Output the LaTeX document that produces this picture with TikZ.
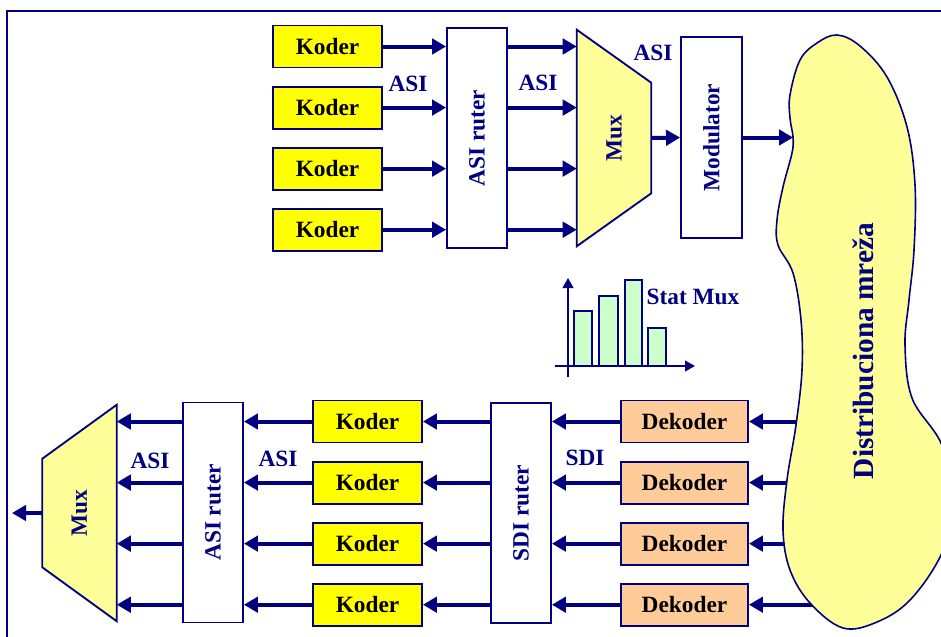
\documentclass[tikz,border=0pt]{standalone}
\usepackage{fontspec}
\setmainfont{Liberation Serif}
\usepackage{graphicx}
\usepackage{xcolor}
\usepackage{tikz}
\usetikzlibrary{positioning, arrows.meta, calc}

\definecolor{navy}{RGB}{0,0,128}
\definecolor{koderyellow}{RGB}{255,255,0}
\definecolor{dekoderpeach}{RGB}{255,204,153}
\definecolor{muxyellow}{RGB}{255,255,153}
\definecolor{barmint}{RGB}{204,255,204}

\begin{document}
\begin{tikzpicture}[x=0.75pt, y=-0.75pt, >={Triangle[length=10.5pt, width=11.5pt]}, node distance=12.9pt,
  every node/.style={font=\fontsize{17.5}{21}\selectfont\bfseries},
  flow/.style={->, draw=navy, line width=3pt},
  koder/.style={draw=navy, line width=1.4pt, fill=koderyellow, minimum width=81.75pt, minimum height=31.5pt, inner sep=0pt},
  dekoder/.style={koder, fill=dekoderpeach, minimum width=95.25pt},
  ruter/.style={draw=navy, line width=1.4pt, fill=white, text=navy, minimum width=45pt, minimum height=165pt, inner sep=0pt},
  modbox/.style={ruter, minimum width=45.75pt, minimum height=150.75pt},
  muxbox/.style={minimum width=55.5pt, minimum height=162pt, inner sep=0pt},
  muxshape/.style={draw=navy, line width=1.4pt, fill=muxyellow},
  lbl/.style={text=navy, inner sep=0pt},
  bar/.style={draw=navy, line width=1.2pt, fill=barmint},
  axis/.style={draw=navy, line width=1.5pt, -{Triangle[length=7.5pt, width=8pt]}}]
  \useasboundingbox (0,0) rectangle (941,636);
  \clip (0,0) rectangle (941,636);
  \draw[navy, line width=1.5pt] (7,11) rectangle (990,690);

  % sending side
  \node[koder] (k1) at (327.5,46.5) {Koder};
  \node[koder] (k2) [below=of k1] {Koder};
  \node[koder] (k3) [below=of k2] {Koder};
  \node[koder] (k4) [below=of k3] {Koder};
  \node[ruter] (rA) at (477,138) {\rotatebox{90}{ASI ruter}};
  \node[muxbox] (muxA) at (614,138) {};
  \filldraw[muxshape] (muxA.north west) -- ($(muxA.north east)+(0,53)$)
    -- ($(muxA.south east)+(0,-53)$) -- (muxA.south west) -- cycle;
  \node[lbl] (muxAlbl) at (muxA.center) {\rotatebox{90}{Mux}};
  \node[modbox] (mod) at (711.5,137.5) {\rotatebox{90}{Modulator}};

  \draw[flow] (k1) -- (k1 -| rA.west);
  \draw[flow] (k2) -- (k2 -| rA.west);
  \draw[flow] (k3) -- (k3 -| rA.west);
  \draw[flow] (k4) -- (k4 -| rA.west);
  \draw[flow] (rA.east |- k1) -- (muxA.west |- k1);
  \draw[flow] (rA.east |- k2) -- (muxA.west |- k2);
  \draw[flow] (rA.east |- k3) -- (muxA.west |- k3);
  \draw[flow] (rA.east |- k4) -- (muxA.west |- k4);
  \draw[flow] (muxA.east) -- (mod.west);

  \node[lbl] (asiA) at (408,84) {ASI};
  \node[lbl] (asiB) at (538,83) {ASI};
  \node[lbl] (asiC) at (653,53) {ASI};

  % stat mux sketch
  \draw[bar] (574,366) rectangle (592,311);
  \draw[bar] (599,366) rectangle (618,296);
  \draw[bar] (625,366) rectangle (642,280);
  \draw[bar] (648,366) rectangle (666,328);
  \draw[axis] (555,366) -- (695,366);
  \draw[axis] (568,377) -- (568,278);
  \node[lbl] (stat) at (693,297) {Stat Mux};

  % receiving side
  \node[dekoder] (d1) at (684.5,421.5) {Dekoder};
  \node[dekoder] (d2) [below=of d1] {Dekoder};
  \node[dekoder] (d3) [below=of d2] {Dekoder};
  \node[dekoder] (d4) [below=of d3] {Dekoder};
  \node[ruter] (rS) at (521,513) {\rotatebox{90}{SDI ruter}};
  \node[koder] (b1) at (367.5,421.5) {Koder};
  \node[koder] (b2) [below=of b1] {Koder};
  \node[koder] (b3) [below=of b2] {Koder};
  \node[koder] (b4) [below=of b3] {Koder};
  \node[ruter] (rB) at (213,512.5) {\rotatebox{90}{ASI ruter}};
  \node[muxbox] (muxB) at (79.5,513) {};
  \filldraw[muxshape] ($(muxB.north west)+(0,54)$) -- (muxB.north east)
    -- (muxB.south east) -- ($(muxB.south west)+(0,-54)$) -- cycle;
  \node[lbl] (muxBlbl) at (muxB.center) {\rotatebox{90}{Mux}};
  \coordinate (out) at (12,513);

  \coordinate (net1) at ($(d1.east)+(52,0)$);
  \coordinate (net2) at ($(d2.east)+(42,0)$);
  \coordinate (net3) at ($(d3.east)+(39,0)$);
  \coordinate (net4) at ($(d4.east)+(67,0)$);
  \draw[flow] (net1) -- (d1);
  \draw[flow] (net2) -- (d2);
  \draw[flow] (net3) -- (d3);
  \draw[flow] (net4) -- (d4);
  \draw[flow] (d1) -- (d1 -| rS.east);
  \draw[flow] (d2) -- (d2 -| rS.east);
  \draw[flow] (d3) -- (d3 -| rS.east);
  \draw[flow] (d4) -- (d4 -| rS.east);
  \draw[flow] (rS.west |- b1) -- (b1);
  \draw[flow] (rS.west |- b2) -- (b2);
  \draw[flow] (rS.west |- b3) -- (b3);
  \draw[flow] (rS.west |- b4) -- (b4);
  \draw[flow] (b1) -- (b1 -| rB.east);
  \draw[flow] (b2) -- (b2 -| rB.east);
  \draw[flow] (b3) -- (b3 -| rB.east);
  \draw[flow] (b4) -- (b4 -| rB.east);
  \draw[flow] (rB.west |- b1) -- (b1 -| muxB.east);
  \draw[flow] (rB.west |- b2) -- (b2 -| muxB.east);
  \draw[flow] (rB.west |- b3) -- (b3 -| muxB.east);
  \draw[flow] (rB.west |- b4) -- (b4 -| muxB.east);
  \draw[flow] (muxB.west) -- (out);

  \node[lbl] (asiD) at (150,461) {ASI};
  \node[lbl] (asiE) at (278,459) {ASI};
  \node[lbl] (sdi) at (585,458) {SDI};

  % distribution network
  \filldraw[draw=navy, line width=1.2pt, fill=muxyellow] plot[smooth cycle, tension=0.6] coordinates {
    (837,35) (860,46) (887,77) (907,127) (915,185) (914,250) (909,300) (905,345)
    (912,398) (941,443) (958,500) (941,555) (910,600) (877,622) (843,628) (810,603)
    (790,570) (783,530) (787,480) (796,425) (802,370) (801,320) (793,273) (778,245)
    (777,220) (783,187) (792,153) (793,137) (790,118) (790,95) (800,60) (817,43)};
  \coordinate (netin) at (793,137);
  \draw[flow] (mod.east) -- (mod.east -| netin);
  \node[lbl, rotate=90, font=\fontsize{22}{26}\selectfont\bfseries] (net) at (863,351) {Distribuciona mreža};
\end{tikzpicture}
\end{document}
